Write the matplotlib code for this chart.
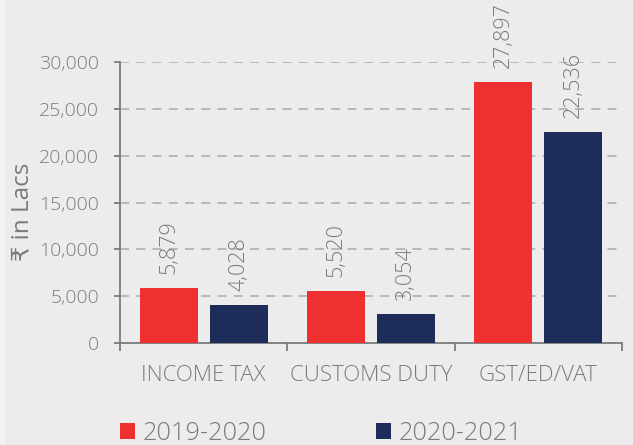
import matplotlib
matplotlib.use("Agg")
import matplotlib.pyplot as plt
from matplotlib.patches import Patch, Rectangle
from matplotlib.ticker import FuncFormatter, FixedLocator
import numpy as np

# Tax figures (₹ in Lacs)
categories = ["INCOME TAX", "CUSTOMS DUTY", "GST/ED/VAT"]
series_names = ["2019-2020", "2020-2021"]
values_2019_20 = [5879, 5520, 27897]
values_2020_21 = [4028, 3054, 22536]
y_ticks = [0, 5000, 10000, 15000, 20000, 25000, 30000]

RED = "#ee3030"
NAVY = "#1e2c5a"
GREY = "#7a7c7b"
BG = "#ececec"

plt.rcParams["font.family"] = ["Open Sans", "DejaVu Sans"]
plt.rcParams["font.weight"] = "light"

fig = plt.figure(figsize=(6.33, 4.45), dpi=100, facecolor=BG)
# thin lighter strip along the left edge
fig.patches.append(Rectangle((0, 0), 5 / 633, 1, transform=fig.transFigure,
                             facecolor="#f4f4f4", edgecolor="none", zorder=0))

ax = fig.add_axes([120 / 633, 1 - 343 / 445, 502 / 633, 281 / 445])
ax.set_facecolor(BG)

x = np.arange(len(categories))
width = 0.347
offset = 0.209
bars1 = ax.bar(x - offset, values_2019_20, width, color=RED, zorder=3)
bars2 = ax.bar(x + offset, values_2020_21, width, color=NAVY, zorder=3)

for bars, vals in ((bars1, values_2019_20), (bars2, values_2020_21)):
    for b, v in zip(bars, vals):
        ax.annotate(f"{v:,}", (b.get_x() + b.get_width() / 2, v),
                    xytext=(0, 10), textcoords="offset points",
                    rotation=90, ha="center", va="bottom",
                    fontsize=15.5, color=GREY)

ax.set_xlim(-0.5, len(categories) - 0.5)
ax.set_ylim(0, 30000)
ax.set_yticks(y_ticks)
ax.yaxis.set_major_formatter(FuncFormatter(lambda v, p: f"{int(v):,}"))
ax.yaxis.grid(True, linestyle=(0, (5, 4)), color="#b4b4b4", linewidth=1.3, zorder=0)
ax.set_axisbelow(True)

# category boundary ticks on the x axis, labels at centres
ax.xaxis.set_major_locator(FixedLocator([-0.5, 0.5, 1.5, 2.5]))
ax.xaxis.set_major_formatter(FuncFormatter(lambda v, p: ""))
ax.xaxis.set_minor_locator(FixedLocator(list(x)))
ax.set_xticklabels(categories, minor=True)
ax.tick_params(axis="x", which="major", length=6, width=1.3, color=GREY, direction="out")
ax.tick_params(axis="x", which="minor", length=0, pad=16, labelsize=16, labelcolor=GREY)
ax.tick_params(axis="y", length=4, width=1.3, color=GREY, pad=11,
               labelsize=14, labelcolor=GREY)

for s in ("top", "right"):
    ax.spines[s].set_visible(False)
for s in ("left", "bottom"):
    ax.spines[s].set_color(GREY)
    ax.spines[s].set_linewidth(1.3)

ax.set_ylabel("₹ in Lacs", fontsize=17.5, color=GREY)
ax.yaxis.set_label_coords(-0.171, 0.468)

handles = [Patch(facecolor=RED), Patch(facecolor=NAVY)]
fig.legend(handles, series_names, loc="lower left",
           bbox_to_anchor=(120 / 633, -1 / 445), ncol=2, frameon=False,
           fontsize=18.3, labelcolor=GREY, handlelength=0.6, handleheight=0.6,
           handletextpad=0.3, columnspacing=4.3, borderpad=0, borderaxespad=0)

fig.savefig("out.png", dpi=100, facecolor=BG)
